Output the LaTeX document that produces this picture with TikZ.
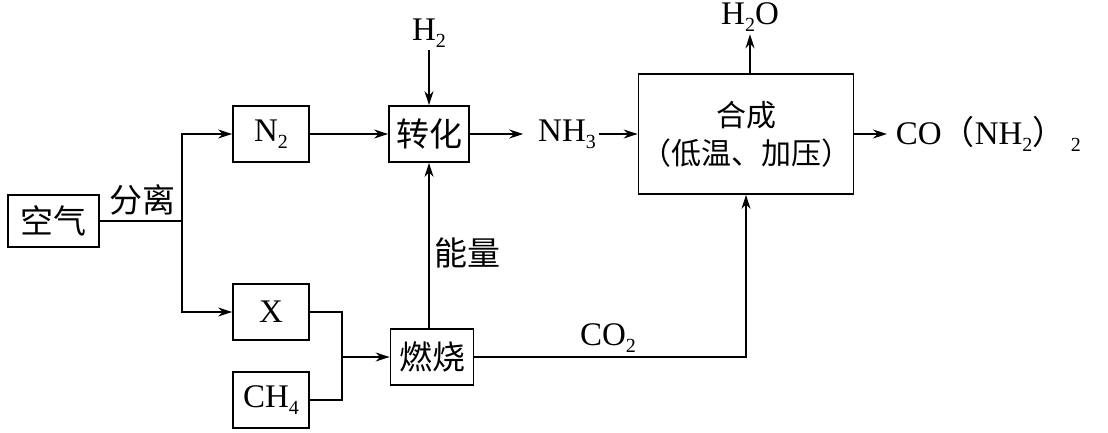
\documentclass[tikz,border=0pt]{standalone}
\usepackage{fontspec}
\setmainfont{Liberation Serif}
\newfontfamily\cjk{Noto Sans CJK SC}
\usetikzlibrary{arrows.meta,positioning}
\newcommand\sub[1]{\raisebox{-0.45ex}{\fontsize{10}{10}\selectfont #1}}
\tikzset{
  box/.style={draw,line width=0.9pt,inner sep=0pt,font=\fontsize{16.5}{18}\selectfont},
  lbl/.style={inner sep=1pt,font=\fontsize{16.5}{18}\selectfont},
  arr/.style={-{Stealth[length=7pt,width=4.5pt]}},
}
\begin{document}
\begin{tikzpicture}[x=0.5pt,y=-0.5pt,line width=0.9pt]
  \useasboundingbox (0,0) rectangle (1108,433);
  \node[box,minimum width=45.5pt,minimum height=26pt] (air) at (53.5,221) {\cjk 空气};
  \node[box,minimum width=38pt,minimum height=28pt] (n2) at (271,134) {N\sub{2}};
  \node[box,minimum width=38pt,minimum height=28pt] (x) at (271,312) {X};
  \node[box,minimum width=38pt,minimum height=28pt] (ch4) at (271,400) {CH\sub{4}};
  \node[box,minimum width=40pt,minimum height=28pt] (zh) at (429,134) {\cjk 转化};
  \node[box,minimum width=41.5pt,minimum height=28pt] (rs) at (432,357) {\cjk 燃烧};
  \node[box,minimum width=107.5pt,minimum height=60pt,align=center,
    font=\fontsize{15}{18}\selectfont] (hc) at (746,134)
    {\cjk 合成\\[1pt]\cjk （低温、加压）};
  \node[lbl] (h2) at (429,33) {H\sub{2}};
  \node[lbl] (nh3) at (567,134) {NH\sub{3}};
  \node[lbl] (h2o) at (750,17) {H\sub{2}O};
  \node[lbl,anchor=west] (urea) at (893,134)
    {CO{\cjk （}NH\sub{2}{\cjk ）}\,\sub{2}};
  \node[lbl] (fl) at (142,200) {\cjk 分离};
  \node[lbl] (nl) at (467,253) {\cjk 能量};
  \node[lbl] (co2) at (608,338) {CO\sub{2}};
  \coordinate (split) at (182,221);
  \coordinate (merge) at (342,357);
  \begin{scope}[arr]
    \draw[-] (air.east) -- (split);
    \draw (split) |- (n2.west);
    \draw (split) |- (x.west);
    \draw[-] (x.east) -| (merge);
    \draw[-] (ch4.east) -| (merge);
    \draw (merge) -- (rs.west);
    \draw (n2.east) -- (zh.west);
    \draw (h2.south) -- (zh.north);
    \draw (rs.north -| zh.south) -- (zh.south);
    \draw[shorten >=6pt] (zh.east) -- (nh3.west);
    \draw (nh3.east) -- (hc.west);
    \draw (hc.north -| h2o.south) -- (h2o.south);
    \draw[shorten >=3pt] (hc.east) -- (urea.west);
    \draw (rs.east) -| (hc.south);
  \end{scope}
\end{tikzpicture}
\end{document}
